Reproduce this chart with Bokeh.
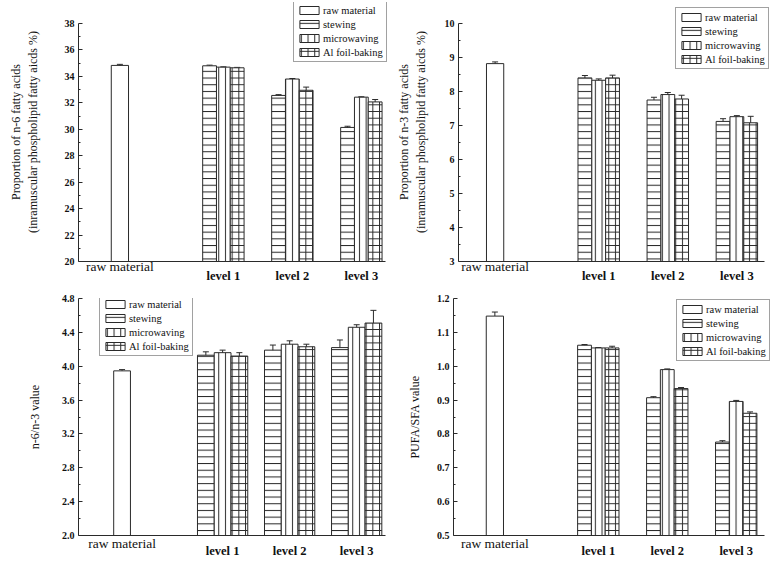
from bokeh.plotting import figure
from bokeh.layouts import column, row
from bokeh.models import (ColumnDataSource, Whisker, TeeHead, Legend, LegendItem, LinearAxis,
                          FixedTicker, PrintfTickFormatter, Range1d)
from bokeh.embed import file_html
from bokeh.resources import INLINE

# ---------------- data ----------------
categories = ["raw material", "level 1", "level 2", "level 3"]
methods = ["stewing", "microwaving", "Al foil-baking"]

# Proportion of n-6 fatty acids
n6_raw, n6_raw_err = 34.83, 0.08
n6_stewing = [34.80, 32.56, 30.14]
n6_stewing_err = [0.05, 0.06, 0.09]
n6_microwaving = [34.70, 33.80, 32.43]
n6_microwaving_err = [0.02, 0.04, 0.03]
n6_foil = [34.65, 32.95, 32.07]
n6_foil_err = [0.03, 0.24, 0.18]

# Proportion of n-3 fatty acids
n3_raw, n3_raw_err = 8.82, 0.05
n3_stewing = [8.40, 7.75, 7.12]
n3_stewing_err = [0.07, 0.08, 0.08]
n3_microwaving = [8.33, 7.91, 7.26]
n3_microwaving_err = [0.04, 0.06, 0.03]
n3_foil = [8.40, 7.78, 7.08]
n3_foil_err = [0.08, 0.11, 0.19]

# n-6/n-3 value
ratio_raw, ratio_raw_err = 3.945, 0.015
ratio_stewing = [4.13, 4.19, 4.22]
ratio_stewing_err = [0.04, 0.06, 0.09]
ratio_microwaving = [4.16, 4.26, 4.46]
ratio_microwaving_err = [0.03, 0.04, 0.03]
ratio_foil = [4.12, 4.23, 4.51]
ratio_foil_err = [0.04, 0.03, 0.15]

# PUFA/SFA value
pufa_raw, pufa_raw_err = 1.148, 0.012
pufa_stewing = [1.062, 0.907, 0.776]
pufa_stewing_err = [0.002, 0.003, 0.004]
pufa_microwaving = [1.054, 0.990, 0.896]
pufa_microwaving_err = [0.001, 0.002, 0.003]
pufa_foil = [1.054, 0.934, 0.861]
pufa_foil_err = [0.005, 0.003, 0.004]

# axis ticks
n6_ticks = [20, 22, 24, 26, 28, 30, 32, 34, 36, 38]
n3_ticks = [3, 4, 5, 6, 7, 8, 9, 10]
ratio_ticks = [2.0, 2.4, 2.8, 3.2, 3.6, 4.0, 4.4, 4.8]
pufa_ticks = [0.5, 0.6, 0.7, 0.8, 0.9, 1.0, 1.1, 1.2]

n6_title = "Proportion of n-6 fatty acids\n(inramuscular phospholipid fatty aicds %)"
n3_title = "Proportion of n-3 fatty acids\n(inramuscular phospholipid fatty aicds %)"
ratio_title = "n-6/n-3 value"
pufa_title = "PUFA/SFA value"

FONT = "Liberation Serif"
INK = "#2a2a2a"
HATCHES = ["horizontal_line", "vertical_line", "cross"]


def make_panel(raw, raw_err, series, errs, ticks, fmt, title, *, width, height,
               bl, br_axis, bt_axis, bb, er, et, x_start, x_end, off, bw, legend_xy,
               title_standoff, raw_standoff, level_standoff):
    y0, y1 = ticks[0], ticks[-1]
    step = ticks[1] - ticks[0]
    minor = [y0 + step * (i + 0.5) for i in range(len(ticks) - 1)]
    # extend the frame beyond the axes so the legend is not clipped
    ppu_y = (height - bt_axis - bb) / (y1 - y0)
    ppu_x = (width - bl - br_axis) / (x_end - x_start)
    p = figure(width=width, height=height, output_backend="svg", toolbar_location=None,
               x_range=Range1d(x_start, x_end + er / ppu_x),
               y_range=Range1d(y0, y1 + et / ppu_y),
               min_border_left=bl, min_border_right=br_axis - er, min_border_top=bt_axis - et,
               min_border_bottom=bb, outline_line_color=None)
    p.grid.visible = False
    p.background_fill_color = "white"
    p.border_fill_color = "white"

    raw_x = 0.5
    level_x = [2, 3, 4]

    items = []
    r = p.vbar(x=[raw_x], top=[raw], bottom=y0, width=0.25, fill_color="white",
               line_color=INK, line_width=1)
    items.append(LegendItem(label="raw material", renderers=[r]))
    p.add_layout(Whisker(source=ColumnDataSource(dict(x=[raw_x], u=[raw + raw_err], l=[raw - raw_err])),
                         base="x", upper="u", lower="l", line_color=INK, line_width=1,
                         upper_head=TeeHead(size=6, line_color=INK),
                         lower_head=TeeHead(size=6, line_color=INK)))
    for k, (vals, ers) in enumerate(zip(series, errs)):
        xs = [c + (k - 1) * off for c in level_x]
        r = p.vbar(x=xs, top=vals, bottom=y0, width=bw, fill_color="white",
                   line_color=INK, line_width=1, hatch_pattern=HATCHES[k],
                   hatch_color=INK, hatch_weight=1, hatch_scale=6.7)
        items.append(LegendItem(label=methods[k], renderers=[r]))
        src = ColumnDataSource(dict(x=xs, u=[v + e for v, e in zip(vals, ers)],
                                    l=[v - e for v, e in zip(vals, ers)]))
        p.add_layout(Whisker(source=src, base="x", upper="u", lower="l", line_color=INK,
                             line_width=1, upper_head=TeeHead(size=6, line_color=INK),
                             lower_head=TeeHead(size=6, line_color=INK)))

    legend = Legend(items=items, location=legend_xy, label_text_font=FONT,
                    label_text_font_size="10.5px", label_text_color="#111",
                    glyph_width=24, glyph_height=10, label_height=12, label_standoff=2,
                    spacing=2, padding=3, margin=0, border_line_color="#444",
                    border_line_width=1, background_fill_color="white",
                    background_fill_alpha=1)
    p.add_layout(legend, "center")

    # y axis
    ya = p.yaxis[0]
    ya.bounds = (y0, y1)
    ya.ticker = FixedTicker(ticks=ticks, minor_ticks=minor)
    ya.formatter = PrintfTickFormatter(format=fmt)
    ya.major_tick_in = 4
    ya.major_tick_out = 0
    ya.minor_tick_in = 2
    ya.minor_tick_out = 0
    ya.axis_line_color = INK
    ya.major_tick_line_color = INK
    ya.minor_tick_line_color = INK
    ya.major_label_text_font = FONT
    ya.major_label_text_font_style = "bold"
    ya.major_label_text_font_size = "10px"
    ya.major_label_text_color = "#111"
    ya.major_label_standoff = 4
    ya.axis_label = title
    ya.axis_label_text_font = FONT
    ya.axis_label_text_font_style = "normal"
    ya.axis_label_text_font_size = "12px"
    ya.axis_label_text_color = "#111"
    ya.axis_label_standoff = title_standoff

    # x axis (closest to the frame): raw material
    xa = p.xaxis[0]
    xa.bounds = (x_start, x_end)
    xa.ticker = FixedTicker(ticks=[raw_x], minor_ticks=[])
    xa.major_label_overrides = {raw_x: categories[0]}
    xa.major_tick_in = 0
    xa.major_tick_out = 0
    xa.minor_tick_in = 0
    xa.minor_tick_out = 0
    xa.axis_line_color = INK
    xa.major_label_text_font = FONT
    xa.major_label_text_font_style = "normal"
    xa.major_label_text_font_size = "13.5px"
    xa.major_label_text_color = "#111"
    xa.major_label_standoff = raw_standoff

    # second x axis: levels (bold)
    xb = LinearAxis(ticker=FixedTicker(ticks=level_x, minor_ticks=[]),
                    major_label_overrides={2: categories[1], 3: categories[2], 4: categories[3]},
                    major_tick_in=0, major_tick_out=0, minor_tick_in=0, minor_tick_out=0,
                    axis_line_color=None, major_label_text_font=FONT,
                    major_label_text_font_style="bold", major_label_text_font_size="12.5px",
                    major_label_text_color="#111", major_label_standoff=level_standoff)
    p.add_layout(xb, "below")
    return p


p1 = make_panel(n6_raw, n6_raw_err, [n6_stewing, n6_microwaving, n6_foil],
                [n6_stewing_err, n6_microwaving_err, n6_foil_err], n6_ticks, "%d", n6_title,
                width=390, height=285, bl=78, br_axis=5, bt_axis=23, bb=24, er=5, et=21,
                x_start=-0.10, x_end=4.35, off=0.2, bw=0.2, legend_xy=(215, 199),
                title_standoff=22, raw_standoff=-3, level_standoff=-8)
p2 = make_panel(n3_raw, n3_raw_err, [n3_stewing, n3_microwaving, n3_foil],
                [n3_stewing_err, n3_microwaving_err, n3_foil_err], n3_ticks, "%d", n3_title,
                width=388, height=285, bl=68, br_axis=14, bt_axis=23, bb=24, er=14, et=21,
                x_start=-0.03, x_end=4.40, off=0.2, bw=0.2, legend_xy=(217, 192),
                title_standoff=14, raw_standoff=-3, level_standoff=-8)
p3 = make_panel(ratio_raw, ratio_raw_err, [ratio_stewing, ratio_microwaving, ratio_foil],
                [ratio_stewing_err, ratio_microwaving_err, ratio_foil_err], ratio_ticks, "%.1f",
                ratio_title, width=390, height=275, bl=78, br_axis=5, bt_axis=13, bb=23, er=0,
                et=0, x_start=-0.15, x_end=4.43, off=0.25, bw=0.25, legend_xy=(21, 179),
                title_standoff=17, raw_standoff=0, level_standoff=-10)
p4 = make_panel(pufa_raw, pufa_raw_err, [pufa_stewing, pufa_microwaving, pufa_foil],
                [pufa_stewing_err, pufa_microwaving_err, pufa_foil_err], pufa_ticks, "%.1f",
                pufa_title, width=388, height=275, bl=63, br_axis=14, bt_axis=13, bb=23, er=14,
                et=0, x_start=-0.10, x_end=4.41, off=0.2, bw=0.2, legend_xy=(223, 174),
                title_standoff=12, raw_standoff=0, level_standoff=-10)

layout = column(row(p1, p2, spacing=0), row(p3, p4, spacing=0), spacing=0)
open("out.html", "w").write(file_html(layout, INLINE))
